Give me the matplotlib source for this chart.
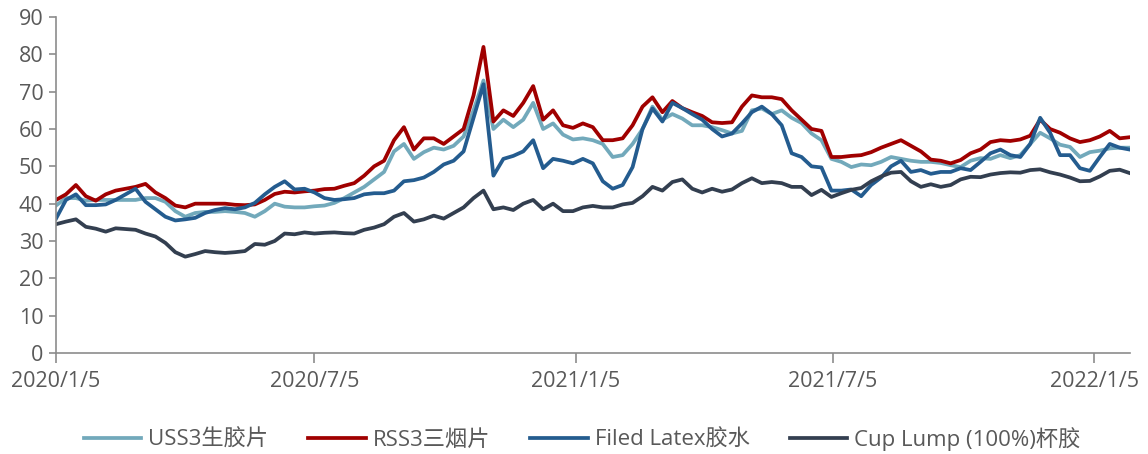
import numpy as np
import pandas as pd
import matplotlib
matplotlib.use("Agg")
import matplotlib.pyplot as plt
import matplotlib.dates as mdates

plt.rcParams['font.family'] = ['Open Sans', 'Noto Sans CJK SC', 'DejaVu Sans']

# 周度数据 (2020/1/5 起)
dates = pd.date_range('2020-01-05', periods=109, freq='7D')

uss3 = [39.5, 41.5, 41.5, 40.8, 41, 41, 41, 41, 41, 41.5,
        41.5, 40.5, 38, 36.5, 37.5, 37.8, 37.8, 38, 37.8, 37.5,
        36.5, 38, 40, 39.2, 39, 39, 39.3, 39.5, 40.2, 41.5,
        43, 44.5, 46.5, 48.5, 54, 56, 52, 53.8, 55, 54.5,
        55.5, 58, 65, 73, 60, 62.5, 60.5, 62.5, 67, 60,
        61.5, 58.5, 57.2, 57.5, 57, 56, 52.5, 53, 56, 60,
        66, 62.5, 64, 62.8, 61, 61, 60.5, 59.7, 58.8, 59.5,
        65, 65.5, 64, 65, 63, 61.6, 58.8, 57, 52, 51.2,
        49.8, 50.5, 50.3, 51.2, 52.5, 52, 51.5, 51.2, 51.2, 50.9,
        50.3, 49.8, 51.5, 52.2, 52, 53, 52.2, 53, 56, 59,
        57.5, 55.8, 55.2, 52.5, 53.8, 54.2, 54.8, 55, 55]

rss3 = [41, 42.5, 45, 42, 40.8, 42.5, 43.5, 44, 44.5, 45.3,
        43, 41.5, 39.5, 39, 40, 40, 40, 40, 39.7, 39.6,
        39.8, 41, 42.6, 43.2, 43, 43.3, 43.5, 43.9, 44, 44.8,
        45.5, 47.5, 50, 51.5, 57, 60.5, 54.5, 57.5, 57.5, 56,
        58, 60, 69, 82, 62, 65, 63.5, 67, 71.5, 62.5,
        65, 61, 60.3, 61.5, 60.5, 57, 57, 57.5, 61, 66,
        68.5, 64.5, 67.5, 65.6, 64.5, 63.5, 61.8, 61.6, 61.8, 66,
        69, 68.5, 68.5, 68, 65, 62.5, 60, 59.5, 52.5, 52.5,
        52.8, 53, 53.8, 55, 56, 57, 55.5, 54, 51.8, 51.5,
        50.8, 51.7, 53.5, 54.5, 56.5, 57, 56.8, 57.2, 58.2, 62.5,
        60, 59, 57.5, 56.5, 57, 58, 59.5, 57.5, 57.8]

latex = [36, 41, 42.5, 39.6, 39.6, 39.8, 41, 42.5, 44, 40.5,
         38.5, 36.5, 35.5, 35.8, 36.2, 37.5, 38.3, 38.8, 38.5, 39,
         40.2, 42.5, 44.5, 46, 43.8, 44, 43, 41.5, 41, 41.2,
         41.5, 42.5, 42.8, 42.8, 43.5, 46, 46.3, 47, 48.5, 50.5,
         51.5, 54, 63, 72, 47.5, 52, 52.8, 54, 57, 49.5,
         52, 51.5, 50.8, 52, 50.8, 46, 44, 45, 49.8, 60,
         65.5, 62, 67, 65.6, 64, 62.5, 60, 58, 58.8, 61.5,
         64.5, 66, 64, 61, 53.5, 52.5, 50, 49.7, 43.5, 43.5,
         43.8, 42, 45, 47, 50, 51.5, 48.5, 49, 48, 48.5,
         48.5, 49.5, 49, 51.2, 53.5, 54.5, 53, 52.5, 56, 63,
         59, 53, 53, 49.5, 48.8, 52.5, 56, 55, 54.5]

cup_lump = [34.5, 35.2, 35.8, 33.8, 33.3, 32.5, 33.4, 33.2, 33, 32,
            31.2, 29.5, 27, 25.8, 26.5, 27.3, 27, 26.8, 27, 27.3,
            29.2, 29, 30, 32, 31.8, 32.3, 32, 32.2, 32.3, 32.1,
            32, 33, 33.6, 34.5, 36.5, 37.5, 35.2, 35.8, 36.8, 36,
            37.5, 39, 41.5, 43.5, 38.5, 39, 38.3, 40, 41, 38.5,
            40, 38, 38, 39, 39.4, 39, 39, 39.8, 40.2, 42,
            44.5, 43.5, 45.8, 46.5, 44, 43, 44, 43.2, 43.8, 45.5,
            46.8, 45.5, 45.8, 45.5, 44.5, 44.5, 42.3, 43.7, 41.8, 42.8,
            43.7, 44.2, 46, 47.3, 48.3, 48.5, 46, 44.5, 45.2, 44.5,
            45, 46.5, 47.2, 47.1, 47.8, 48.2, 48.4, 48.3, 49, 49.2,
            48.4, 47.8, 47, 46, 46.1, 47.3, 48.8, 49.1, 48.2]

labels = ['USS3生胶片', 'RSS3三烟片', 'Filed Latex胶水', 'Cup Lump (100%)杯胶']
colors = ['#72A9BB', '#A00000', '#245C8F', '#333F50']
tick_dates = ['2020-01-05', '2020-07-05', '2021-01-05', '2021-07-05', '2022-01-05']

fig = plt.figure(figsize=(11.48, 4.54), dpi=100)
ax = fig.add_axes([0.0488, 0.2225, 0.9352, 0.740])

for vals, lab, c in zip([uss3, rss3, latex, cup_lump], labels, colors):
    ax.plot(dates, vals, color=c, lw=2.7, label=lab)

ax.set_ylim(0, 90)
ax.set_yticks(range(0, 91, 10))
ax.set_xlim(dates[0], dates[-1])
ax.set_xticks(pd.to_datetime(tick_dates))
ax.xaxis.set_major_formatter(mdates.DateFormatter('%Y/%-m/%-d'))

for s in ['top', 'right']:
    ax.spines[s].set_visible(False)
for s in ['left', 'bottom']:
    ax.spines[s].set_color('#8c8c8c')
    ax.spines[s].set_linewidth(1.2)
ax.tick_params(axis='both', colors='#8c8c8c', labelcolor='#595959', labelsize=15.5, width=1.2)
ax.tick_params(axis='y', length=5, pad=4)
ax.tick_params(axis='x', length=7, pad=6)

fig.legend(loc='center', bbox_to_anchor=(0.507, 0.033), ncol=4, frameon=False,
           fontsize=16, handlelength=2.6, columnspacing=1.8, handletextpad=0.3,
           labelcolor='#595959')

fig.savefig('out.png', dpi=100)
